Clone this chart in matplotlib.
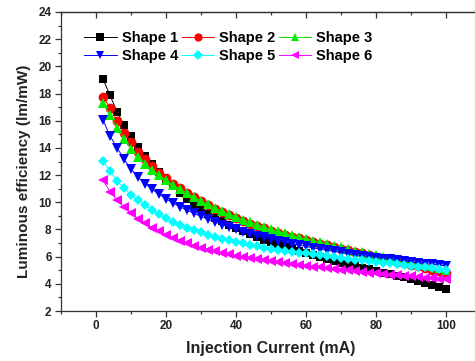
import matplotlib
matplotlib.use('Agg')
import matplotlib.pyplot as plt
from matplotlib.ticker import MultipleLocator

current = list(range(2, 101, 2))

shape1 = [19.07, 17.87, 16.67, 15.69, 14.85, 14.10, 13.40, 12.78, 12.22, 11.70,
          11.20, 10.70, 10.25, 9.85, 9.50, 9.17, 8.87, 8.59, 8.33, 8.08,
          7.86, 7.65, 7.45, 7.25, 7.05, 6.90, 6.75, 6.60, 6.45, 6.30,
          6.15, 6.00, 5.85, 5.70, 5.55, 5.42, 5.30, 5.18, 5.06, 4.95,
          4.83, 4.71, 4.59, 4.47, 4.35, 4.20, 4.05, 3.90, 3.75, 3.60]
shape2 = [17.77, 16.96, 16.00, 15.12, 14.41, 13.72, 13.20, 12.67, 12.18, 11.76,
          11.38, 11.02, 10.68, 10.36, 10.06, 9.78, 9.52, 9.27, 9.04, 8.82,
          8.62, 8.43, 8.25, 8.08, 7.92, 7.77, 7.62, 7.48, 7.34, 7.21,
          7.08, 6.95, 6.83, 6.71, 6.59, 6.47, 6.35, 6.24, 6.13, 6.00,
          5.88, 5.76, 5.64, 5.52, 5.40, 5.28, 5.16, 5.04, 4.92, 4.80]
shape3 = [17.33, 16.42, 15.50, 14.68, 13.95, 13.35, 12.85, 12.38, 11.98, 11.62,
          11.28, 10.96, 10.66, 10.37, 10.10, 9.84, 9.59, 9.35, 9.13, 8.92,
          8.72, 8.53, 8.35, 8.18, 8.02, 7.87, 7.72, 7.58, 7.44, 7.31,
          7.18, 7.05, 6.93, 6.81, 6.69, 6.57, 6.45, 6.34, 6.23, 6.12,
          6.01, 5.90, 5.80, 5.69, 5.59, 5.49, 5.39, 5.29, 5.15, 5.02]
shape4 = [16.05, 14.88, 14.02, 13.17, 12.45, 11.85, 11.38, 10.95, 10.60, 10.25,
          9.95, 9.67, 9.42, 9.18, 8.96, 8.75, 8.55, 8.36, 8.18, 8.00,
          7.84, 7.69, 7.55, 7.42, 7.29, 7.17, 7.06, 6.95, 6.85, 6.75,
          6.65, 6.56, 6.47, 6.39, 6.31, 6.23, 6.15, 6.07, 6.00, 5.93,
          5.86, 5.79, 5.73, 5.67, 5.61, 5.55, 5.49, 5.44, 5.38, 5.33]
shape5 = [13.04, 12.30, 11.57, 11.03, 10.54, 10.17, 9.78, 9.45, 9.12, 8.84,
          8.58, 8.35, 8.14, 7.95, 7.78, 7.62, 7.47, 7.33, 7.20, 7.08,
          6.97, 6.86, 6.76, 6.66, 6.57, 6.48, 6.40, 6.32, 6.28, 6.24,
          6.17, 6.10, 6.03, 5.96, 5.90, 5.84, 5.78, 5.72, 5.66, 5.60,
          5.55, 5.50, 5.44, 5.38, 5.33, 5.27, 5.21, 5.16, 5.10, 5.05]
shape6 = [11.64, 10.78, 10.17, 9.63, 9.19, 8.80, 8.45, 8.13, 7.86, 7.61,
          7.38, 7.17, 6.98, 6.81, 6.66, 6.52, 6.39, 6.27, 6.16, 6.06,
          5.97, 5.88, 5.80, 5.72, 5.65, 5.58, 5.51, 5.45, 5.39, 5.33,
          5.27, 5.21, 5.15, 5.09, 5.04, 4.98, 4.93, 4.88, 4.83, 4.78,
          4.73, 4.68, 4.63, 4.58, 4.54, 4.49, 4.45, 4.40, 4.36, 4.32]

labels = ['Shape 1', 'Shape 2', 'Shape 3', 'Shape 4', 'Shape 5', 'Shape 6']
series = [shape1, shape2, shape3, shape4, shape5, shape6]
colors = ['black', 'red', '#00ee00', 'blue', 'cyan', 'magenta']
markers = ['s', 'o', '^', 'v', 'D', '<']
msizes = [6, 7, 7, 7, 5.5, 7]

plt.rcParams['font.family'] = ['Liberation Sans', 'DejaVu Sans']
plt.rcParams['font.weight'] = 'bold'

fig = plt.figure(figsize=(4.75, 3.61), dpi=100)
ax = fig.add_axes([61 / 475, 50 / 361, 420 / 475, 299 / 361])

handles = []
for vals, lab, c, m, ms in zip(series, labels, colors, markers, msizes):
    h, = ax.plot(current, vals, color=c, marker=m, markersize=ms, lw=0.7,
                 markeredgewidth=0, label=lab)
    handles.append(h)

ax.set_xlim(-10, 110)
ax.set_ylim(2, 24)
ax.xaxis.set_major_locator(MultipleLocator(20))
ax.xaxis.set_minor_locator(MultipleLocator(10))
ax.yaxis.set_major_locator(MultipleLocator(2))
ax.yaxis.set_minor_locator(MultipleLocator(1))
ax.tick_params(which='both', direction='out', top=False, right=False,
               labelsize=8.5, width=0.9, color='#333333', labelcolor='#222222', pad=2.5)
ax.tick_params(which='major', length=4.3)
ax.tick_params(which='minor', length=2.5)
for s in ax.spines.values():
    s.set_linewidth(0.9)
    s.set_color('#333333')

# mirrored ticks on the top spine, pointing inward
top = ax.secondary_xaxis('top')
top.xaxis.set_major_locator(MultipleLocator(20))
top.xaxis.set_minor_locator(MultipleLocator(10))
top.tick_params(which='both', direction='in', labeltop=False, width=0.9, color='#333333')
top.tick_params(which='major', length=4.3)
top.tick_params(which='minor', length=2.5)
top.spines['top'].set_linewidth(0.9)
top.spines['top'].set_color('#333333')

ax.set_xlabel('Injection Current (mA)', fontsize=11.5, fontweight='bold',
              color='#222222', labelpad=6)
ax.set_ylabel('Luminous efficiency (lm/mW)', fontsize=11, fontweight='bold',
              color='#222222')
ax.yaxis.set_label_coords(-0.071, 0.467)

order = [0, 3, 1, 4, 2, 5]
ax.legend([handles[i] for i in order], [labels[i] for i in order], ncol=3,
          loc='upper left', bbox_to_anchor=(0.035, 0.965), frameon=False,
          fontsize=10.5, handlelength=2.2, handletextpad=0.35, columnspacing=0.25,
          labelspacing=0.25, borderaxespad=0.2, markerscale=0.85)

fig.savefig('out.png', dpi=100)
